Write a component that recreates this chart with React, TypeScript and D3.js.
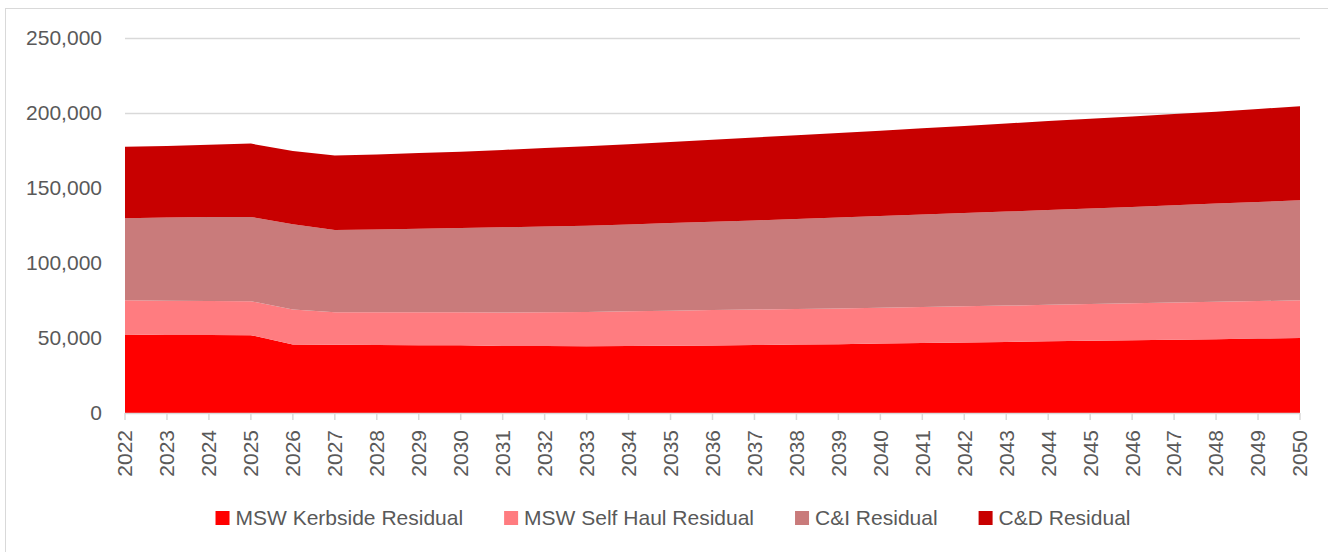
import { useEffect, useRef } from 'react';
import * as d3 from 'd3';

const years = [
  '2022', '2023', '2024', '2025', '2026', '2027', '2028', '2029', '2030', '2031',
  '2032', '2033', '2034', '2035', '2036', '2037', '2038', '2039', '2040', '2041',
  '2042', '2043', '2044', '2045', '2046', '2047', '2048', '2049', '2050',
];

const mswKerbside = [
  52300, 52000, 52000, 51900, 45700, 45500, 45300, 45200, 45100, 44700,
  44600, 44500, 44600, 44800, 45000, 45300, 45600, 45900, 46300, 46700,
  47000, 47400, 47800, 48100, 48500, 48900, 49200, 49600, 50000,
];
const mswSelfHaul = [
  22800, 22800, 22600, 22600, 23300, 21600, 21800, 21900, 22000, 22300,
  22500, 22900, 23200, 23400, 23600, 23700, 23800, 23800, 23800, 23900,
  24100, 24200, 24300, 24500, 24600, 24700, 24900, 25000, 25100,
];
const ciResidual = [
  54700, 55500, 56100, 56200, 56900, 54900, 55300, 55700, 56200, 56800,
  57300, 57500, 57900, 58400, 58900, 59400, 60000, 60600, 61200, 61700,
  62200, 62700, 63200, 63700, 64300, 64900, 65500, 66100, 66700,
];
const cdResidual = [
  47700, 47700, 48200, 48900, 48800, 49600, 50000, 50500, 50900, 51600,
  52300, 52900, 53500, 54100, 54700, 55300, 55700, 56300, 56900, 57500,
  58100, 58700, 59300, 59800, 60300, 60800, 61300, 62000, 62700,
];

const seriesNames = ['MSW Kerbside Residual', 'MSW Self Haul Residual', 'C&I Residual', 'C&D Residual'];
const seriesColors = ['#ff0000', '#ff7c80', '#c97b7b', '#c80000'];
const yTicks = [0, 50000, 100000, 150000, 200000, 250000];

const FONT = '"Liberation Sans", Arial, sans-serif';

const AreaChart = () => {
  const svgRef = useRef<SVGSVGElement | null>(null);

  useEffect(() => {
    if (!svgRef.current) return;
    const width = 1328;
    const height = 552;
    const svg = d3.select(svgRef.current).attr('width', width).attr('height', height);
    svg.selectAll('*').remove();

    // chart frame
    svg
      .append('rect')
      .attr('x', 5.5)
      .attr('y', 8.5)
      .attr('width', 1400)
      .attr('height', 600)
      .attr('fill', '#fff')
      .attr('stroke', '#d9d9d9');

    const x = d3.scalePoint().domain(years).range([125, 1300]);
    const y = d3.scaleLinear().domain([0, 250000]).range([413, 38]);

    // gridlines
    svg
      .append('g')
      .selectAll('line')
      .data(yTicks.slice(1))
      .join('line')
      .attr('x1', 125)
      .attr('x2', 1300)
      .attr('y1', (d) => Math.round(y(d)) + 0.5)
      .attr('y2', (d) => Math.round(y(d)) + 0.5)
      .attr('stroke', '#d9d9d9')
      .attr('stroke-width', 1.5);

    const table = years.map((yr, i) => ({
      year: yr,
      k: mswKerbside[i],
      s: mswSelfHaul[i],
      ci: ciResidual[i],
      cd: cdResidual[i],
    }));
    const stack = d3.stack<any>().keys(['k', 's', 'ci', 'cd']);
    const layers = stack(table);

    const area = d3
      .area<any>()
      .x((d) => x(d.data.year)!)
      .y0((d) => y(d[0]))
      .y1((d) => y(d[1]));

    svg
      .append('g')
      .selectAll('path')
      .data(layers)
      .join('path')
      .attr('d', area)
      .attr('fill', (_, i) => seriesColors[i]);

    // x axis line + ticks
    svg
      .append('line')
      .attr('x1', 125)
      .attr('x2', 1300)
      .attr('y1', 413.5)
      .attr('y2', 413.5)
      .attr('stroke', '#d9d9d9')
      .attr('stroke-width', 1.5);
    svg
      .append('g')
      .selectAll('line')
      .data(years)
      .join('line')
      .attr('x1', (d) => x(d)!)
      .attr('x2', (d) => x(d)!)
      .attr('y1', 413)
      .attr('y2', 420)
      .attr('stroke', '#d9d9d9')
      .attr('stroke-width', 1.5);

    // x labels
    svg
      .append('g')
      .selectAll('text')
      .data(years)
      .join('text')
      .attr('transform', (d) => `translate(${x(d)},430) rotate(-90)`)
      .attr('text-anchor', 'end')
      .attr('dy', '0.35em')
      .attr('font-family', FONT)
      .attr('font-size', 21)
      .attr('fill', '#595959')
      .text((d) => d);

    // y labels
    svg
      .append('g')
      .selectAll('text')
      .data(yTicks)
      .join('text')
      .attr('x', 102)
      .attr('y', (d) => y(d))
      .attr('dy', '0.35em')
      .attr('text-anchor', 'end')
      .attr('font-family', FONT)
      .attr('font-size', 21)
      .attr('fill', '#595959')
      .text((d) => d3.format(',')(d));

    // legend
    const legend = svg.append('g');
    const items = legend
      .selectAll('g')
      .data(seriesNames)
      .join('g');
    items
      .append('rect')
      .attr('width', 14)
      .attr('height', 14)
      .attr('y', 511)
      .attr('fill', (_, i) => seriesColors[i]);
    items
      .append('text')
      .attr('x', 20)
      .attr('y', 525)
      .attr('font-family', FONT)
      .attr('font-size', 21)
      .attr('fill', '#595959')
      .text((d) => d);

    const widths: number[] = [];
    items.each(function () {
      const t = d3.select(this).select('text').node() as SVGTextElement;
      widths.push(20 + t.getComputedTextLength());
    });
    const gap = 41;
    const total = d3.sum(widths) + gap * (widths.length - 1);
    let cx = 673 - total / 2;
    items.attr('transform', (_, i) => {
      const pos = cx;
      cx += widths[i] + gap;
      return `translate(${pos},0)`;
    });
  }, []);

  return <svg ref={svgRef} style={{ position: 'absolute', left: 0, top: 0 }}></svg>;
};

export default function App() {
  return <AreaChart />;
}
